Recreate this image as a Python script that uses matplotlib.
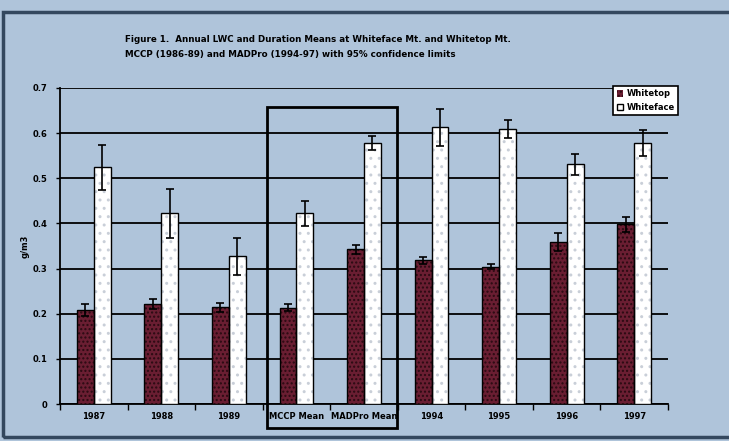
import matplotlib
matplotlib.use("Agg")
import matplotlib.pyplot as plt
import numpy as np
from matplotlib.patches import Rectangle

categories = ["1987", "1988", "1989", "MCCP Mean", "MADPro Mean", "1994", "1995", "1996", "1997"]
whitetop = [0.209, 0.222, 0.214, 0.213, 0.343, 0.318, 0.304, 0.358, 0.398]
whitetop_err = [0.013, 0.011, 0.010, 0.008, 0.010, 0.008, 0.006, 0.020, 0.016]
whiteface = [0.524, 0.422, 0.327, 0.422, 0.578, 0.613, 0.609, 0.531, 0.578]
whiteface_err = [0.050, 0.055, 0.041, 0.028, 0.015, 0.041, 0.020, 0.023, 0.028]
yticks = [0, 0.1, 0.2, 0.3, 0.4, 0.5, 0.6, 0.7]
ytick_labels = ["0", "0.1", "0.2", "0.3", "0.4", "0.5", "0.6", "0.7"]

bg = "#afc4da"
maroon = "#6a1e32"

fig = plt.figure(figsize=(7.29, 4.41), dpi=100, facecolor=bg)
ax = fig.add_axes([60/729, 1-404/441, 608/729, 316/441])
ax.set_facecolor(bg)

x = np.arange(len(categories))
w = 0.25
ax.bar(x - w/2, whitetop, w, color=maroon, edgecolor="#2a0a12", hatch="....", linewidth=0, zorder=3)
ax.bar(x - w/2, whitetop, w, fill=False, edgecolor="black", linewidth=1.0, zorder=4)
ax.bar(x + w/2, whiteface, w, color="white", edgecolor="#c9cfd8", hatch="..", linewidth=0, zorder=3)
ax.bar(x + w/2, whiteface, w, fill=False, edgecolor="black", linewidth=1.0, zorder=4)
ax.errorbar(x - w/2, whitetop, yerr=whitetop_err, fmt="none", ecolor="black", elinewidth=1.2, capsize=3, capthick=1.2, zorder=5)
ax.errorbar(x + w/2, whiteface, yerr=whiteface_err, fmt="none", ecolor="black", elinewidth=1.2, capsize=3, capthick=1.2, zorder=5)

ax.set_xlim(-0.5, len(categories) - 0.5)
ax.set_ylim(0, 0.7)
ax.set_yticks(yticks)
ax.set_yticklabels(ytick_labels, fontsize=6, fontweight="bold")
ax.yaxis.grid(True, color="black", linewidth=1.3, zorder=1)
ax.set_axisbelow(True)

ax.set_xticks(x)
ax.set_xticklabels(categories, fontsize=6, fontweight="bold")
ax.tick_params(axis="x", length=0, pad=6)
ax.set_xticks(np.arange(-0.5, len(categories)), minor=True)
ax.tick_params(axis="x", which="minor", length=4, width=1, color="black", direction="out")
ax.tick_params(axis="y", length=3, width=1, direction="out", pad=6)

for s in ["top", "right"]:
    ax.spines[s].set_visible(False)
for s in ["left", "bottom"]:
    ax.spines[s].set_linewidth(1.3)
    ax.spines[s].set_color("black")

ax.set_ylabel("g/m3", fontsize=6, fontweight="bold", labelpad=2)

leg = ax.legend(["Whitetop", "Whiteface"], loc="upper left",
                bbox_to_anchor=(609/729, 1-82/441), bbox_transform=fig.transFigure,
                prop={"weight": "bold", "size": 6}, frameon=True, fancybox=False,
                edgecolor="black", facecolor="white", framealpha=1, handlelength=0.8,
                handleheight=0.8, borderpad=0.4, labelspacing=0.5, handletextpad=0.4)
leg.get_frame().set_linewidth(1.2)
leg.set_zorder(10)

fig.text(125/729, 1-40/441, "Figure 1.  Annual LWC and Duration Means at Whiteface Mt. and Whitetop Mt.",
         fontsize=6.3, fontweight="bold", ha="left", va="center")
fig.text(125/729, 1-55/441, "MCCP (1986-89) and MADPro (1994-97) with 95% confidence limits",
         fontsize=6.3, fontweight="bold", ha="left", va="center")

fig.patches.append(Rectangle((267/729, 1-428/441), 130/729, 321/441, transform=fig.transFigure,
                             fill=False, edgecolor="black", linewidth=2, zorder=20))
fig.patches.append(Rectangle((3/729, 1-437/441), 740/729, 425/441, transform=fig.transFigure,
                             fill=False, edgecolor="#34485e", linewidth=2.5, zorder=20))

fig.savefig("out.png", dpi=100, facecolor=bg)
